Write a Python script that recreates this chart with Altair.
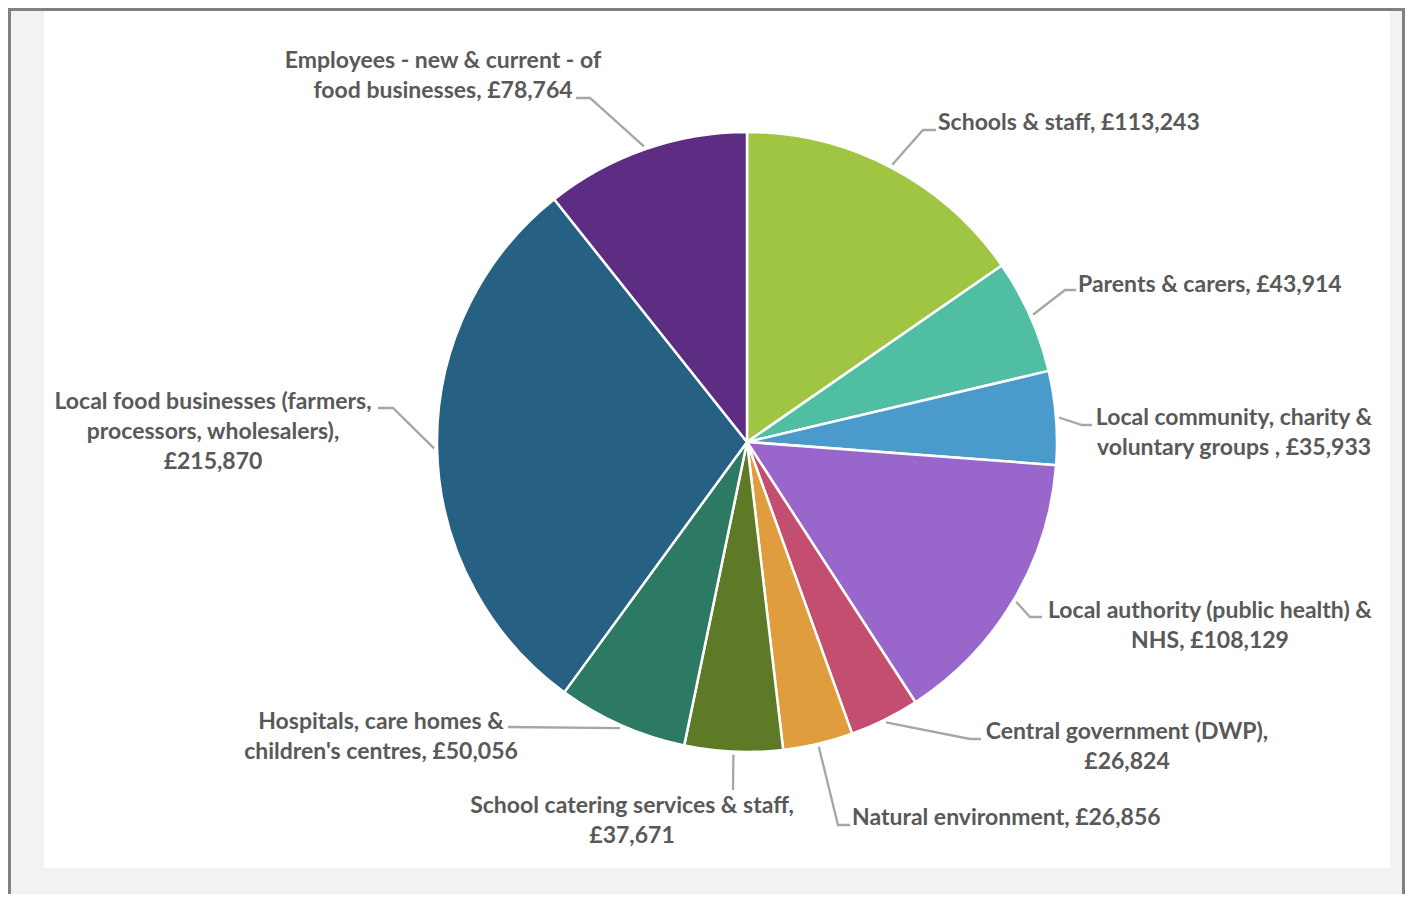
import math
import altair as alt
import pandas as pd

# ---------------- data ----------------
categories = [
    "Schools & staff",
    "Parents & carers",
    "Local community, charity & voluntary groups ",
    "Local authority (public health) & NHS",
    "Central government (DWP)",
    "Natural environment",
    "School catering services & staff",
    "Hospitals, care homes & children's centres",
    "Local food businesses (farmers, processors, wholesalers)",
    "Employees - new & current - of food businesses",
]
values = [113243, 43914, 35933, 108129, 26824, 26856, 37671, 50056, 215870, 78764]

# ---------------- style / layout ----------------
colors = ["#9fc543", "#4fbea3", "#4a9bcc", "#9966cc", "#c44e6f",
          "#e09d3d", "#5f7a27", "#2c7a63", "#266082", "#5c2d82"]

# where each label line breaks (text before the break)
label_breaks = [
    [],
    [],
    ["Local community, charity &"],
    ["Local authority (public health) &"],
    ["Central government (DWP),"],
    [],
    ["School catering services & staff,"],
    ["Hospitals, care homes &"],
    ["Local food businesses (farmers,", "processors, wholesalers),"],
    ["Employees - new & current - of"],
]
# label placement relative to the pie centre (px): first-line anchor, align, leader elbow, leader end
label_layout = [
    ((191, -319), "left", (176, -312), (189, -312)),
    ((331, -157), "left", (318, -152), (329, -152)),
    ((487, -24), "center", (335, -17), (345, -17)),
    ((463, 169), "center", (283, 175), (295, 175)),
    ((380, 290), "center", (223, 297), (234, 297)),
    ((105, 376), "left", (91, 383), (103, 383)),
    ((-115, 364), "center", None, (-14, 348)),
    ((-366, 280), "center", None, (-239, 285)),
    ((-534, -40), "center", (-354, -34), (-369, -34)),
    ((-304, -381), "center", (-157, -344), (-171, -344)),
]

W, H = 1346, 857          # white plot area
CX, CY = 703, 431         # pie centre inside plot area
R = 310
LINE_GREY = "#a6a6a6"
TEXT_GREY = "#595959"
FONT = "Lato"

# ---------------- tables ----------------
total = sum(values)
pie_df = pd.DataFrame({"category": categories, "value": values, "idx": range(len(values))})

line_rows, text_rows = [], []
cum = 0
for i, (cat, val) in enumerate(zip(categories, values)):
    mid = (cum + val / 2) / total * 2 * math.pi
    cum += val
    (tx, ty), align, elbow, end = label_layout[i]
    sx, sy = (R + 3) * math.sin(mid), -(R + 3) * math.cos(mid)
    pts = [(sx, sy)] + ([elbow] if elbow else []) + [end]
    for k, (px, py) in enumerate(pts):
        line_rows.append({"category": cat, "pt": k, "x": px, "y": py})
    label = f"{cat}, £{val:,}"
    for b in label_breaks[i]:
        label = label.replace(b + " ", b + "\n", 1)
    text_rows.append({"category": cat, "label": label, "x": tx, "y": ty, "align": align})

line_df = pd.DataFrame(line_rows)
text_df = pd.DataFrame(text_rows)

xs = alt.Scale(domain=[-CX, W - CX], nice=False, zero=False)
ys = alt.Scale(domain=[-CY, H - CY], nice=False, zero=False, reverse=True)

pie = alt.Chart(pie_df).mark_arc(outerRadius=R, stroke="white", strokeWidth=2.5).encode(
    theta=alt.Theta("value:Q", stack=True),
    order=alt.Order("idx:Q", sort="ascending"),
    color=alt.Color("category:N", scale=alt.Scale(domain=categories, range=colors), legend=None),
    x=alt.value(CX),
    y=alt.value(CY),
)

leaders = alt.Chart(line_df).mark_line(color=LINE_GREY, strokeWidth=2.3).encode(
    x=alt.X("x:Q", scale=xs, axis=None),
    y=alt.Y("y:Q", scale=ys, axis=None),
    detail="category:N",
    order="pt:Q",
)

def text_layer(align):
    return alt.Chart(text_df).transform_filter(
        alt.datum.align == align
    ).mark_text(
        font=FONT, fontWeight="bold", fontSize=23, color=TEXT_GREY,
        lineBreak="\n", lineHeight=30, align=align, baseline="middle",
    ).encode(
        x=alt.X("x:Q", scale=xs, axis=None),
        y=alt.Y("y:Q", scale=ys, axis=None),
        text="label:N",
    )

frame_df = pd.DataFrame({"k": [0]})
top_border = alt.Chart(frame_df).mark_rule(color="#808080", strokeWidth=3).encode(
    x=alt.value(-36), x2=alt.value(1361), y=alt.value(-1.5))
left_border = alt.Chart(frame_df).mark_rule(color="#808080", strokeWidth=3).encode(
    x=alt.value(-34.5), y=alt.value(-3), y2=alt.value(883))
right_border = alt.Chart(frame_df).mark_rule(color="#808080", strokeWidth=3).encode(
    x=alt.value(1359.5), y=alt.value(-3), y2=alt.value(883))

chart = alt.layer(
    pie, leaders, text_layer("left"), text_layer("center"),
    top_border, left_border, right_border,
).properties(
    width=W, height=H,
    autosize=alt.AutoSizeParams(type="none"),
    padding={"left": 36, "top": 3, "right": 15, "bottom": 26},
    background="#f2f2f2",
).configure_view(fill="white", stroke=None)

chart.save("out.html", embed_options={"renderer": "svg", "actions": False})
